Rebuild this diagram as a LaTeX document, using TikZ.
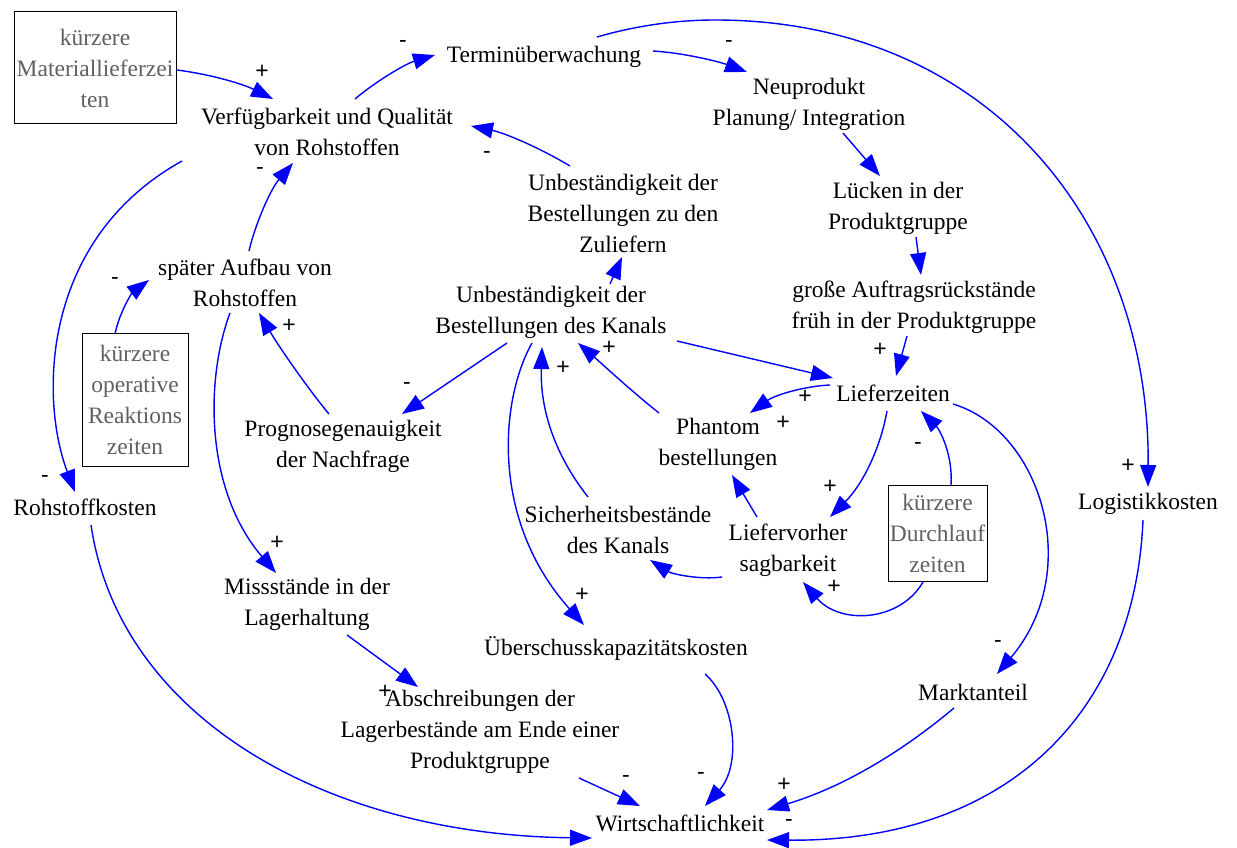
\documentclass[tikz,border=0pt]{standalone}
\usepackage{fontspec}
\setmainfont{Liberation Serif}
\newfontfamily\signfamily{Liberation Sans}
\usetikzlibrary{arrows.meta,calc}
\definecolor{linkblue}{RGB}{0,0,255}
\definecolor{boxtext}{RGB}{96,96,96}
\begin{document}
\begin{tikzpicture}[x=1pt,y=-1pt,
  var/.style={align=center,inner sep=2pt,font=\fontsize{23.5}{31}\selectfont},
  extbox/.style={draw=black,line width=1pt,align=center,inner sep=0pt,
    text=boxtext,font=\fontsize{23.5}{31}\selectfont},
  link/.style={draw=linkblue,line width=1.4pt,
    -{Triangle[length=22pt,width=16pt]}},
  sgn/.style={inner sep=0pt,font=\signfamily\fontsize{23}{23}\selectfont}]
\useasboundingbox (0,0) rectangle (1237,848);

% variables
\node[var] (verf) at (327,132) {Verfügbarkeit und Qualität\\von Rohstoffen};
\node[var] (term) at (544,57) {Terminüberwachung};
\node[var] (neu) at (809,104) {Neuprodukt\\Planung/ Integration};
\node[var] (luecken) at (898,208) {Lücken in der\\Produktgruppe};
\node[var] (gross) at (914,307) {große Auftragsrückstände\\früh in der Produktgruppe};
\node[var] (liefer) at (893,393) {Lieferzeiten};
\node[var] (logk) at (1148,504) {Logistikkosten};
\node[var] (markt) at (973,692) {Marktanteil};
\node[var] (wirt) at (680,823) {Wirtschaftlichkeit};
\node[var] (rohk) at (85,507) {Rohstoffkosten};
\node[var] (spaeter) at (245,283) {später Aufbau von\\Rohstoffen};
\node[var] (prog) at (343,446) {Prognosegenauigkeit\\der Nachfrage};
\node[var] (unbz) at (623,213) {Unbeständigkeit der\\Bestellungen zu den\\Zuliefern};
\node[var] (unbk) at (551,312) {Unbeständigkeit der\\Bestellungen des Kanals};
\node[var] (phantom) at (718,444) {Phantom\\bestellungen};
\node[var] (sicher) at (618,530) {Sicherheitsbestände\\des Kanals};
\node[var] (lvs) at (788,550) {Liefervorher\\sagbarkeit};
\node[var] (missst) at (307,604) {Missstände in der\\Lagerhaltung};
\node[var] (ueber) at (616,648) {Überschusskapazitätskosten};
\node[var] (abschr) at (480,732) {Abschreibungen der\\Lagerbestände am Ende einer\\Produktgruppe};

% external levers
\node[extbox,minimum width=162pt,minimum height=112pt] (kmat) at (95,68)
  {kürzere\\Materiallieferzei\\ten};
\node[extbox,minimum width=106pt,minimum height=133pt] (kop) at (135,400)
  {kürzere\\operative\\Reaktions\\zeiten};
\node[extbox,minimum width=99pt,minimum height=96pt] (kdl) at (937.5,533)
  {kürzere\\Durchlauf\\zeiten};

% causal links
\draw[link] ($(kmat)+(82,2)$) .. controls (215,75) and (245,85) .. ($(verf)+(-54,-33)$);
\draw[link] ($(verf)+(28,-33)$) .. controls (375,82) and (405,64) .. ($(term)+(-109,-2)$);
\draw[link] ($(term)+(109,-6)$) .. controls (685,53) and (720,62) .. ($(neu)+(-62,-32)$);
\draw[link] ($(term)+(53,-20)$) .. controls (635,26) and (675,20) .. (715,20)
  .. controls (985,20) and (1150,220) .. ($(logk)+(0,-17)$);
\draw[link] ($(neu)+(34,29)$) -- ($(luecken)+(-18,-32)$);
\draw[link] ($(luecken)+(18,29)$) -- ($(gross)+(7,-32)$);
\draw[link] ($(gross)+(-7,29)$) -- ($(liefer)+(3,-17)$);
\draw[link] ($(unbz)+(-53,-47)$) .. controls (540,148) and (505,133) .. ($(verf)+(144,-6)$);
\draw[link] ($(unbk)+(59,-28)$) -- ($(unbz)+(-1,44)$);
\draw[link] ($(spaeter)+(4,-32)$) .. controls (255,225) and (270,190) .. ($(verf)+(-34,31)$);
\draw[link] ($(kop)+(-20,-66)$) .. controls (120,310) and (133,292) .. ($(spaeter)+(-96,-3)$);
\draw[link] ($(prog)+(-14,-32)$) .. controls (305,385) and (278,345) .. ($(spaeter)+(14,30)$);
\draw[link] ($(unbk)+(-44,31)$) -- ($(prog)+(59,-32)$);
\draw[link] ($(verf)+(-145,29)$) .. controls (40,240) and (40,400) .. ($(rohk)+(-10,-15)$);
\draw[link] ($(spaeter)+(-15,30)$) .. controls (205,380) and (205,490) .. ($(missst)+(-31,-31)$);
\draw[link] ($(missst)+(40,31)$) -- ($(abschr)+(-62,-45)$);
\draw[link] ($(rohk)+(6,18)$) .. controls (120,720) and (330,835) .. ($(wirt)+(-88,15)$);
\draw[link] ($(abschr)+(99,46)$) -- ($(wirt)+(-40,-17)$);
\draw[link] ($(ueber)+(89,26)$) .. controls (735,700) and (742,765) .. ($(wirt)+(25,-17)$);
\draw[link] ($(markt)+(-19,16)$) .. controls (910,745) and (850,785) .. ($(wirt)+(87,-13)$);
\draw[link] ($(logk)+(-5,16)$) .. controls (1135,710) and (1010,842) .. ($(wirt)+(87,17)$);
\draw[link] ($(liefer)+(60,11)$) .. controls (1040,430) and (1085,570) .. ($(markt)+(24,-18)$);
\draw[link] ($(unbk)+(126,29)$) -- ($(liefer)+(-60,-15)$);
\draw[link] ($(liefer)+(-63,-8)$) .. controls (805,386) and (775,395) .. ($(phantom)+(32,-31)$);
\draw[link] ($(phantom)+(-59,-31)$) .. controls (630,390) and (600,362) .. ($(unbk)+(27,31)$);
\draw[link] ($(liefer)+(-6,18)$) .. controls (880,450) and (862,485) .. ($(lvs)+(42,-33)$);
\draw[link] ($(lvs)+(-31,-33)$) -- ($(phantom)+(14,31)$);
\draw[link] ($(lvs)+(-66,27)$) .. controls (700,580) and (672,574) .. ($(sicher)+(32,30)$);
\draw[link] ($(sicher)+(-30,-33)$) .. controls (555,455) and (540,410) .. ($(unbk)+(-9,35)$);
\draw[link] ($(unbk)+(-19,31)$) .. controls (500,400) and (490,520) .. ($(ueber)+(-32,-23)$);
\draw[link] ($(kdl)+(-14.5,49)$) .. controls (900,622) and (840,625) .. ($(lvs)+(15,32)$);
\draw[link] ($(kdl)+(13.5,-48)$) .. controls (953,455) and (940,430) .. ($(liefer)+(28,18)$);

% polarities
\node[sgn] (p1) at (262,72) {+};
\node[sgn] (p2) at (403,44) {-};
\node[sgn] (p3) at (729,44) {-};
\node[sgn] (p4) at (1128,466) {+};
\node[sgn] (p5) at (880,350) {+};
\node[sgn] (p6) at (487,155) {-};
\node[sgn] (p7) at (260,171) {-};
\node[sgn] (p8) at (115,281) {-};
\node[sgn] (p9) at (289,326) {+};
\node[sgn] (p10) at (407,386) {-};
\node[sgn] (p11) at (45,479) {-};
\node[sgn] (p12) at (277,543) {+};
\node[sgn] (p13) at (385,692) {+};
\node[sgn] (p14) at (626,779) {-};
\node[sgn] (p15) at (701,776) {-};
\node[sgn] (p16) at (784,785) {+};
\node[sgn] (p17) at (789,823) {-};
\node[sgn] (p18) at (998,644) {-};
\node[sgn] (p19) at (805,397) {+};
\node[sgn] (p20) at (783,423) {+};
\node[sgn] (p21) at (609,348) {+};
\node[sgn] (p22) at (830,487) {+};
\node[sgn] (p23) at (563,368) {+};
\node[sgn] (p24) at (582,595) {+};
\node[sgn] (p25) at (834,587) {+};
\node[sgn] (p26) at (918,446) {-};
\end{tikzpicture}
\end{document}
